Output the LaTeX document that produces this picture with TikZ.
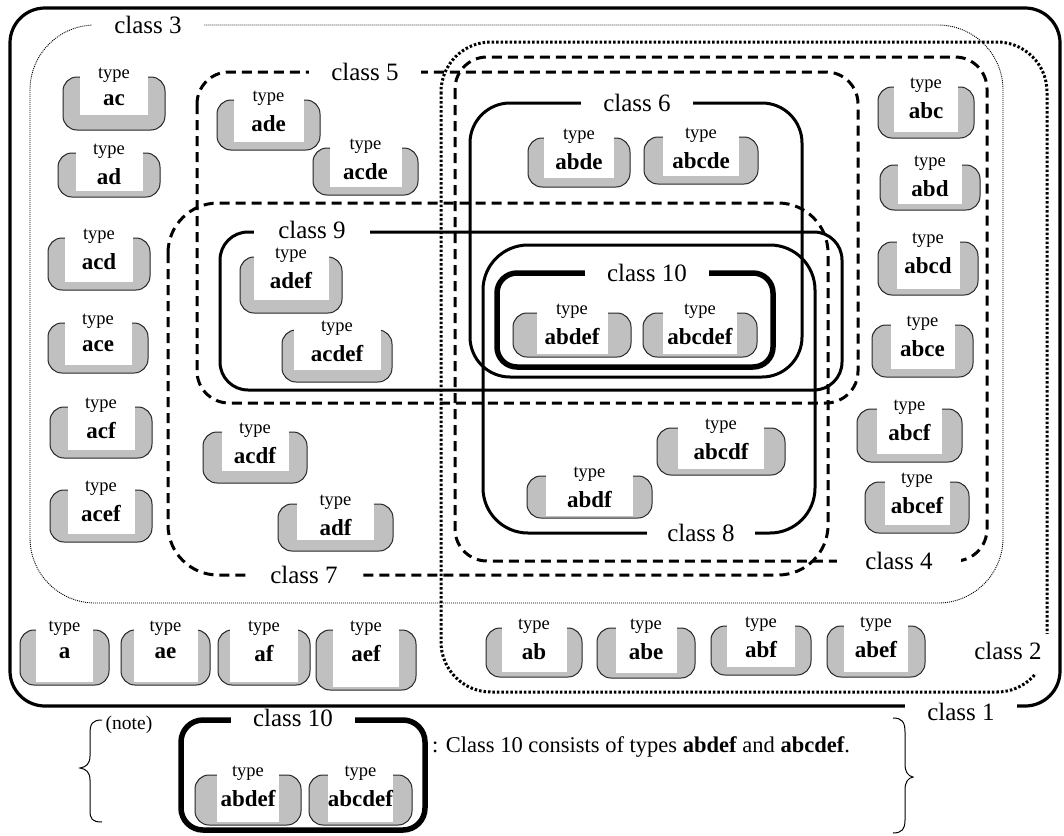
\documentclass[tikz,border=0pt]{standalone}
\usepackage{fontspec}
\setmainfont{Liberation Serif}
\definecolor{boxgray}{HTML}{C0C0C0}
\begin{document}
\begin{tikzpicture}[x=1pt,y=-1pt,
  tbox/.style={draw=black!85, line width=1pt, fill=boxgray, rounded corners=14pt, inner sep=0pt},
  ttype/.style={font=\fontsize{18.5}{20}\selectfont, inner sep=0pt},
  tlab/.style={font=\fontsize{23}{25}\selectfont\bfseries, inner sep=0pt},
  clab/.style={font=\fontsize{25}{28}\selectfont, fill=white, inner xsep=22pt, inner ysep=2pt},
  clsone/.style={line width=3.2pt},
  clstwo/.style={line width=3pt, dash pattern=on 2.5pt off 2pt},
  clsthree/.style={line width=0.9pt, dash pattern=on 1pt off 1pt},
  clsdash/.style={line width=3pt, dash pattern=on 10pt off 6pt},
  clssolid/.style={line width=3pt},
  clsthick/.style={line width=5.5pt},
  bracestyle/.style={line width=1pt}]
\useasboundingbox (0,0) rectangle (1064,835);

\newcommand\tn[8]{%
  \pgfmathsetmacro\tnX{(#2+#4)/2}%
  \pgfmathsetmacro\tnW{#4-#2}%
  \pgfmathsetmacro\tnH{#5-#3}%
  \node[tbox, minimum width=\tnW pt, minimum height=\tnH pt] (#1) at (\tnX,{(#3+#5)/2}) {};
  \fill[white] ({\tnX-#6/2},{#3-3}) rectangle ({\tnX+#6/2},{#5-#7});
  \node[ttype] (#1-t) at (\tnX,{#3-2}) {type};
  \node[tlab] (#1-l) at (\tnX,{#3+23.5}) {#8};
}

% class boundaries
\draw[clsthree, rounded corners=65pt] (30,25) rectangle (1003,603);
\draw[clstwo, rounded corners=50pt] (441,42) rectangle (1047,692);
\draw[clsone, rounded corners=35pt] (10,8) rectangle (1060,706);
\draw[clsdash, rounded corners=32pt] (455,57) rectangle (987,561);
\draw[clsdash, rounded corners=32pt] (197,72) rectangle (858,403);
\draw[clsdash, rounded corners=50pt] (168,203) rectangle (828,575);
\draw[clssolid, rounded corners=40pt] (470,103) rectangle (802,377);
\draw[clssolid, rounded corners=45pt] (483,245) rectangle (815,533);
\draw[clssolid, rounded corners=28pt] (220,232) rectangle (842,390);
\draw[clsthick, rounded corners=20pt] (497,273) rectangle (773,367);

% class labels
\node[clab] (c1) at (961,712) {class 1};
\fill[white] (968,634) rectangle (1052,674);
\node[font=\fontsize{25}{28}\selectfont, inner sep=0pt] (c2) at (1008,651) {class 2};
\node[clab] (c3) at (148,25) {class 3};
\node[clab, inner xsep=28pt] (c4) at (899,561) {class 4};
\node[clab] (c5) at (365,72) {class 5};
\node[clab] (c6) at (637,103) {class 6};
\node[clab] (c7) at (304,575) {class 7};
\node[clab, inner xsep=20pt] (c8) at (701,533) {class 8};
\node[clab, inner xsep=24pt] (c9) at (312,230) {class 9};
\node[clab] (c10) at (647,273) {class 10};

% types
\tn{ac}{63}{77}{165}{130}{68}{15}{ac}
\tn{ad}{58}{153}{160}{197}{67}{6}{ad}
\tn{acd}{48}{238}{150}{290}{68}{8}{acd}
\tn{ace}{48}{323}{148}{373}{67}{8}{ace}
\tn{acf}{50}{407}{152}{458}{67}{8}{acf}
\tn{acef}{50}{490}{152}{542}{67}{8}{acef}
\tn{ade}{217}{100}{320}{150}{70}{8}{ade}
\tn{acde}{313}{148}{418}{195}{72}{8}{acde}
\tn{abde}{528}{138}{630}{187}{70}{9}{abde}
\tn{abcde}{644}{137}{758}{184}{76}{8}{abcde}
\tn{abc}{878}{87}{974}{138}{64}{6}{abc}
\tn{abd}{880}{165}{980}{210}{64}{6}{abd}
\tn{abcd}{878}{242}{978}{295}{63}{6}{abcd}
\tn{abce}{872}{325}{973}{377}{64}{8}{abce}
\tn{abcf}{857}{409}{962}{462}{65}{8}{abcf}
\tn{abcef}{865}{482}{969}{533}{65}{8}{abcef}
\tn{adef}{240}{257}{342}{313}{75}{13}{adef}
\tn{acdef}{282}{330}{392}{382}{87}{12}{acdef}
\tn{abdef}{513}{313}{631}{357}{71}{3}{abdef}
\tn{abcdef}{643}{313}{757}{357}{74}{3}{abcdef}
\tn{acdf}{203}{432}{307}{483}{67}{12}{acdf}
\tn{adf}{278}{504}{393}{551}{77}{11}{adf}
\tn{abcdf}{657}{428}{785}{475}{86}{6}{abcdf}
\tn{abdf}{527}{476}{652}{518}{87}{2}{abdf}
\tn{a}{20}{630}{109}{685}{57}{3}{a}
\tn{ae}{121}{630}{210}{685}{64}{3}{ae}
\tn{af}{218}{630}{310}{685}{68}{3}{af}
\tn{aef}{316}{630}{416}{690}{66}{3}{aef}
\tn{ab}{486}{628}{582}{677}{65}{5}{ab}
\tn{abe}{597}{628}{695}{678}{61}{5}{abe}
\tn{abf}{711}{626}{811}{675}{68}{8}{abf}
\tn{abef}{827}{626}{925}{677}{64}{5}{abef}

% note
\draw[bracestyle] (102,720) .. controls (92,720) and (90,724) .. (90,734) -- (90,756)
  .. controls (90,764) and (86,767) .. (80,768) .. controls (86,769) and (90,772) .. (90,780)
  -- (90,810) .. controls (90,819) and (92,822) .. (102,822);
\draw[bracestyle] (893,718) .. controls (902,718) and (905,722) .. (905,732) -- (905,764)
  .. controls (905,772) and (908,776) .. (913,777) .. controls (908,778) and (905,782) .. (905,790)
  -- (905,820) .. controls (905,829) and (902,833) .. (893,833);
\node[font=\fontsize{19.5}{22}\selectfont, inner sep=0pt] (note) at (129,725) {(note)};
\draw[clsthick, rounded corners=22pt] (181,720) rectangle (425,830);
\node[clab, inner ysep=0.5pt] (nc10) at (293,718) {class 10};
\tn{nabdef}{195}{775}{301}{825}{62}{3}{abdef}
\tn{nabcdef}{309}{775}{412}{825}{65}{3}{abcdef}
\node[font=\fontsize{22.5}{25}\selectfont, inner sep=0pt, anchor=west] (ntext) at (432,747)
  {: Class 10 consists of types \textbf{abdef} and \textbf{abcdef}.};
\end{tikzpicture}
\end{document}
